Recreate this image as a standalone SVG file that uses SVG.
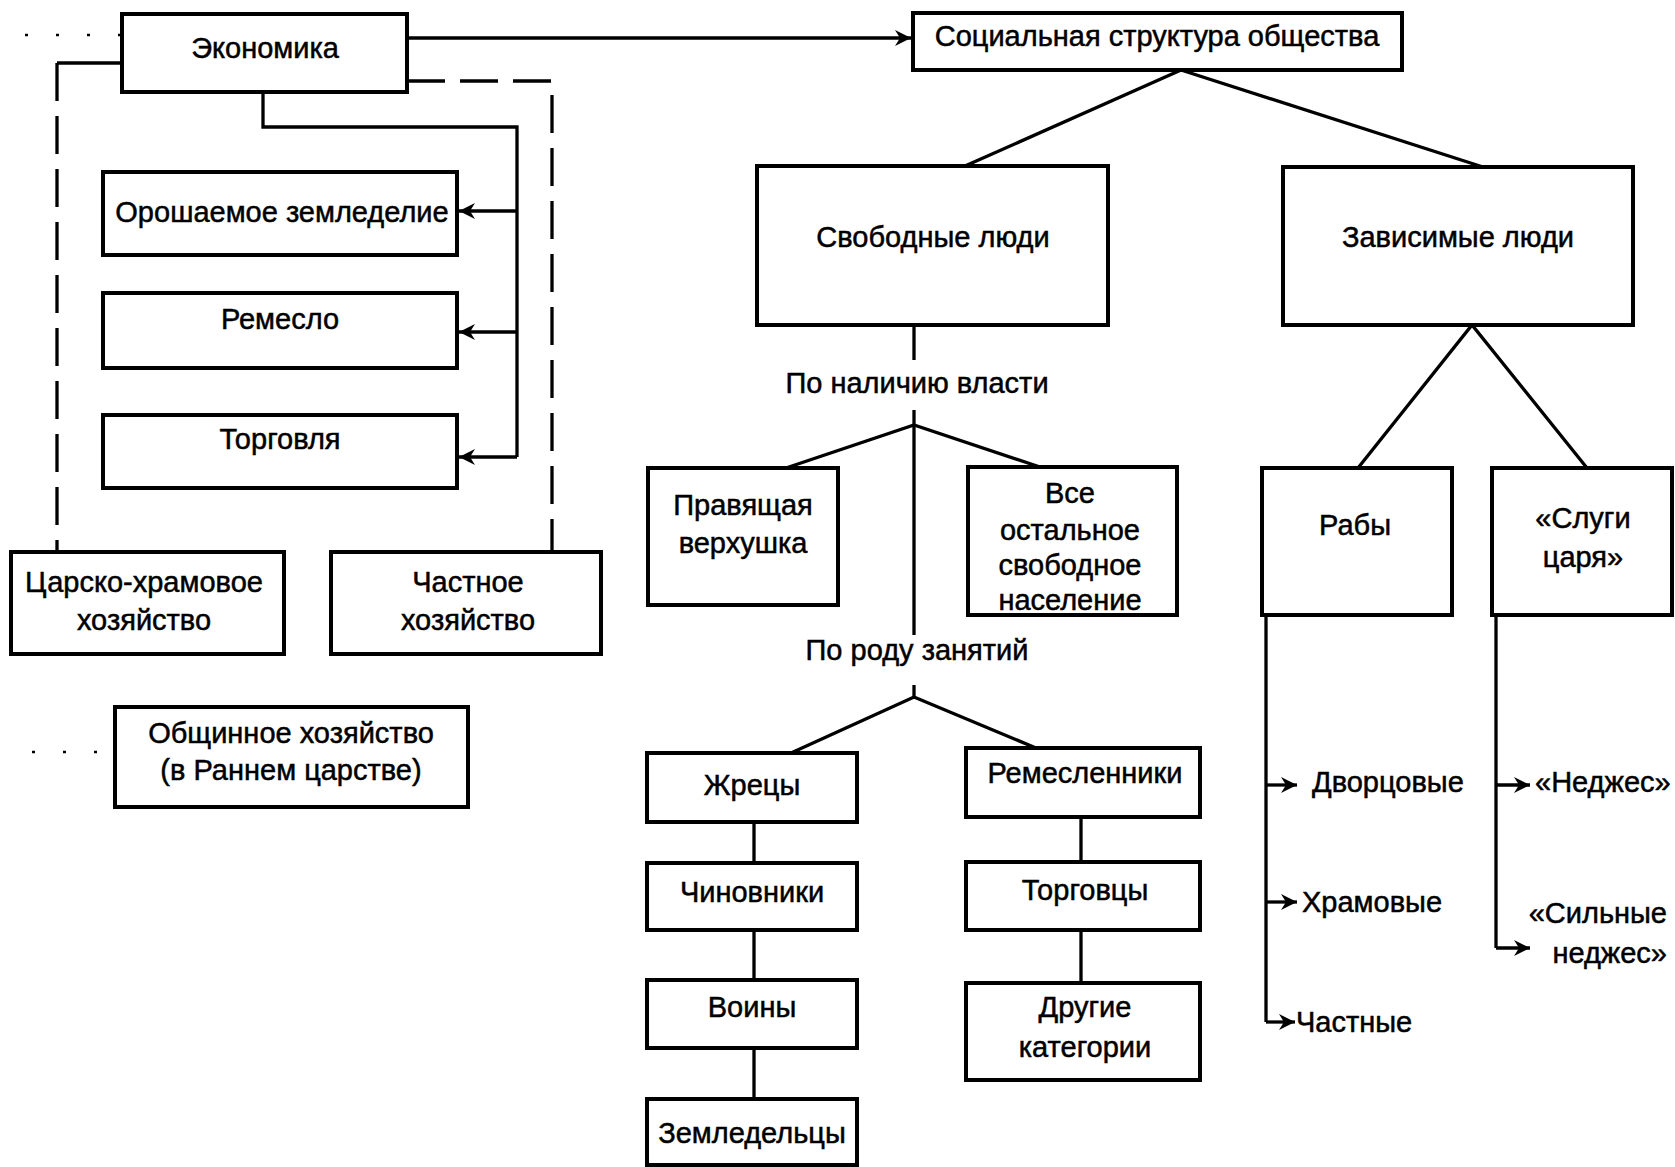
<svg xmlns="http://www.w3.org/2000/svg" width="1675" height="1167" viewBox="0 0 1675 1167">
<style>
.box{fill:#fff;stroke:#000;stroke-width:4}
.t,.ts,.te{font-family:"Liberation Sans",Arial,sans-serif;font-size:29px;fill:#000;stroke:#000;stroke-width:0.5}
.t{text-anchor:middle}
.ts{text-anchor:start}
.te{text-anchor:end}
.c{stroke:#000;stroke-width:3.3;fill:none}
.d{stroke:#000;stroke-width:3.3;fill:none;stroke-dasharray:38 15}
.dot{stroke:#000;stroke-width:2.5;fill:none;stroke-dasharray:3 28}
</style>
<defs>
<marker id="ah" markerUnits="userSpaceOnUse" markerWidth="20" markerHeight="20" refX="16" refY="10" orient="auto">
<path d="M0,2 L16,10 L0,18 L5,10 z" fill="#000"/>
</marker>
</defs>
<rect x="0" y="0" width="1675" height="1167" fill="#fff"/>

<g id="connectors">
<path class="dot" d="M25,35 H120"/>
<path class="dot" d="M32,752 H112"/>
<path class="c" d="M407,38 H911" marker-end="url(#ah)"/>
<path class="c" d="M263,92 V127 H517 V457"/>
<path class="c" d="M517,211 H459" marker-end="url(#ah)"/>
<path class="c" d="M517,332 H459" marker-end="url(#ah)"/>
<path class="c" d="M517,457 H459" marker-end="url(#ah)"/>
<path class="c" d="M122,63 H57"/>
<path class="d" d="M57,63 V552"/>
<path class="d" d="M407,81 H552 V552"/>
<path class="c" d="M1181,70 L965,166"/>
<path class="c" d="M1181,70 L1483,167"/>
<path class="c" d="M914,325 V360"/>
<path class="c" d="M914,410 V635"/>
<path class="c" d="M914,685 V697"/>
<path class="c" d="M786,468 L914,425 L1043,468"/>
<path class="c" d="M791,753 L914,697 L1036,748"/>
<path class="c" d="M754,822 V863 M754,930 V980 M754,1048 V1099"/>
<path class="c" d="M1081,817 V862 M1081,930 V983"/>
<path class="c" d="M1358,468 L1472,325 L1587,468"/>
<path class="c" d="M1266,615 V1022"/>
<path class="c" d="M1266,785 H1297" marker-end="url(#ah)"/>
<path class="c" d="M1266,902 H1297" marker-end="url(#ah)"/>
<path class="c" d="M1266,1022 H1295" marker-end="url(#ah)"/>
<path class="c" d="M1496,615 V948"/>
<path class="c" d="M1496,785 H1530" marker-end="url(#ah)"/>
<path class="c" d="M1496,948 H1530" marker-end="url(#ah)"/>
</g>

<g id="econ"><rect class="box" x="122" y="14" width="285" height="78"/><text class="t" x="265" y="58">Экономика</text></g>
<g id="social"><rect class="box" x="913" y="13" width="489" height="57"/><text class="t" x="1157" y="46">Социальная структура общества</text></g>
<g id="irrigation"><rect class="box" x="103" y="172" width="354" height="83"/><text class="t" x="282" y="222">Орошаемое земледелие</text></g>
<g id="craft"><rect class="box" x="103" y="293" width="354" height="75"/><text class="t" x="280" y="329">Ремесло</text></g>
<g id="trade"><rect class="box" x="103" y="415" width="354" height="73"/><text class="t" x="280" y="449">Торговля</text></g>
<g id="royal"><rect class="box" x="11" y="552" width="273" height="102"/><text class="t" x="144" y="592">Царско-храмовое</text><text class="t" x="144" y="630">хозяйство</text></g>
<g id="private"><rect class="box" x="331" y="552" width="270" height="102"/><text class="t" x="468" y="592">Частное</text><text class="t" x="468" y="630">хозяйство</text></g>
<g id="communal"><rect class="box" x="115" y="707" width="353" height="100"/><text class="t" x="291" y="743">Общинное хозяйство</text><text class="t" x="291" y="780">(в Раннем царстве)</text></g>
<g id="free"><rect class="box" x="757" y="166" width="351" height="159"/><text class="t" x="933" y="247">Свободные люди</text></g>
<g id="dependent"><rect class="box" x="1283" y="167" width="350" height="158"/><text class="t" x="1458" y="247">Зависимые люди</text></g>
<g id="label-power"><text class="t" x="917" y="393">По наличию власти</text></g>
<g id="label-occupation"><text class="t" x="917" y="660">По роду занятий</text></g>
<g id="ruling"><rect class="box" x="648" y="468" width="190" height="137"/><text class="t" x="743" y="515">Правящая</text><text class="t" x="743" y="553">верхушка</text></g>
<g id="rest"><rect class="box" x="968" y="467" width="209" height="148"/><text class="t" x="1070" y="503">Все</text><text class="t" x="1070" y="540">остальное</text><text class="t" x="1070" y="575">свободное</text><text class="t" x="1070" y="610">население</text></g>
<g id="priests"><rect class="box" x="647" y="753" width="210" height="69"/><text class="t" x="752" y="795">Жрецы</text></g>
<g id="officials"><rect class="box" x="647" y="863" width="210" height="67"/><text class="t" x="752" y="902">Чиновники</text></g>
<g id="warriors"><rect class="box" x="647" y="980" width="210" height="68"/><text class="t" x="752" y="1017">Воины</text></g>
<g id="farmers"><rect class="box" x="647" y="1099" width="210" height="66"/><text class="t" x="752" y="1143">Земледельцы</text></g>
<g id="artisans"><rect class="box" x="966" y="748" width="234" height="69"/><text class="t" x="1085" y="783">Ремесленники</text></g>
<g id="traders"><rect class="box" x="966" y="862" width="234" height="68"/><text class="t" x="1085" y="900">Торговцы</text></g>
<g id="others"><rect class="box" x="966" y="983" width="234" height="97"/><text class="t" x="1085" y="1017">Другие</text><text class="t" x="1085" y="1057">категории</text></g>
<g id="slaves"><rect class="box" x="1262" y="468" width="190" height="147"/><text class="t" x="1355" y="535">Рабы</text></g>
<g id="servants"><rect class="box" x="1492" y="468" width="180" height="147"/><text class="t" x="1583" y="528">«Слуги</text><text class="t" x="1583" y="567">царя»</text></g>
<g id="palace"><text class="ts" x="1312" y="792">Дворцовые</text></g>
<g id="temple"><text class="ts" x="1302" y="912">Храмовые</text></g>
<g id="privateslaves"><text class="ts" x="1296" y="1032">Частные</text></g>
<g id="nedjes"><text class="ts" x="1535" y="792">«Неджес»</text></g>
<g id="strongnedjes"><text class="te" x="1667" y="923">«Сильные</text><text class="te" x="1667" y="963">неджес»</text></g>
</svg>
